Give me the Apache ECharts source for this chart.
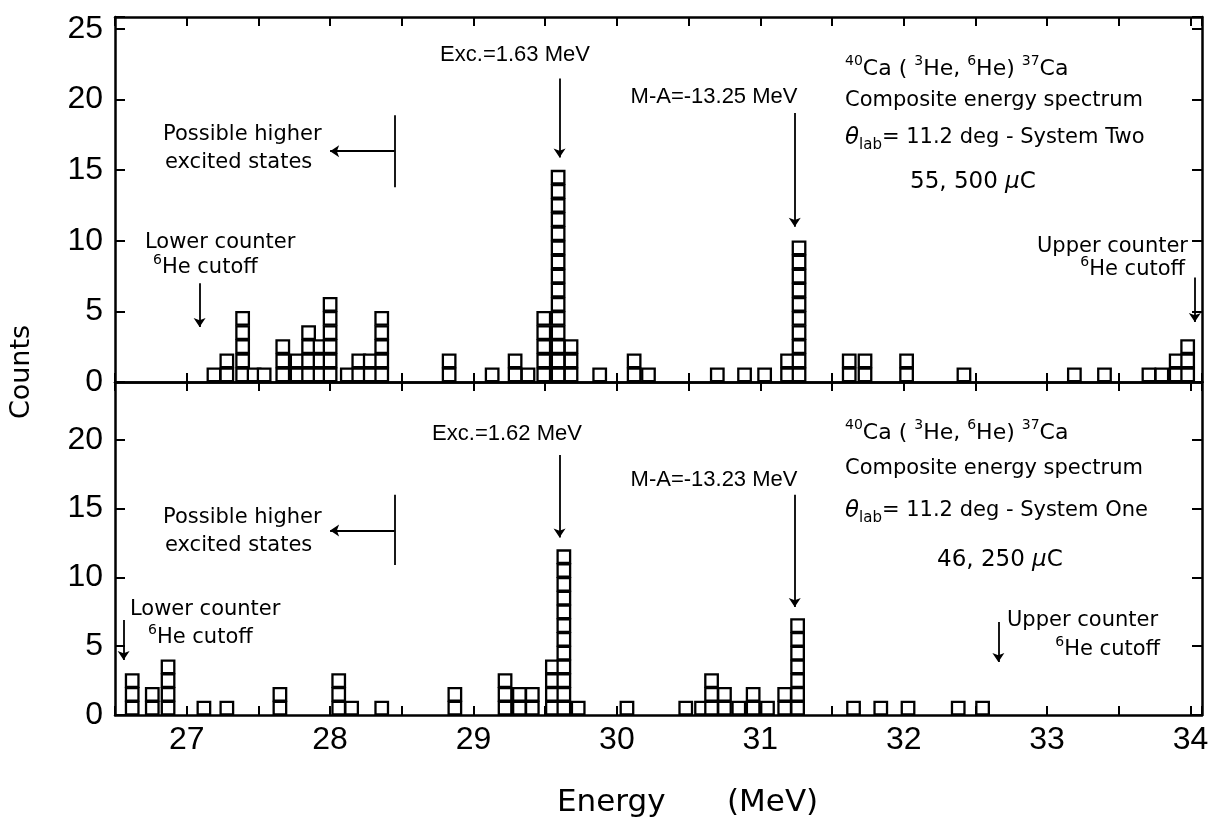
<!DOCTYPE html>
<html>
<head>
<meta charset="utf-8">
<script src="https://cdn.jsdelivr.net/npm/echarts@6/dist/echarts.min.js"></script>
<style>
html,body{margin:0;padding:0;background:#fff;}
#chart{width:1210px;height:819px;}
</style>
</head>
<body>
<div id="chart"></div>
<script>
// ---------------- DATA ----------------
// Upper panel: System Two — energy of each column (MeV) and its number of counts
const topEnergy = [27.19,27.28,27.39,27.47,27.54,27.67,27.77,27.85,27.93,28.00,28.12,28.20,28.28,28.36,
  28.83,29.13,29.29,29.38,29.49,29.59,29.68,29.88,30.12,30.22,30.70,30.89,31.03,31.19,31.27,
  31.62,31.73,32.02,32.42,33.19,33.40,33.71,33.80,33.90,33.98];
const topCounts = [1,2,5,1,1,3,2,4,3,6,1,2,2,5,
  2,1,2,1,5,15,3,1,2,1,1,1,1,2,10,
  2,2,2,1,1,1,1,1,2,3];

// Lower panel: System One
const bottomEnergy = [26.62,26.76,26.87,27.12,27.28,27.65,28.06,28.15,28.36,28.87,
  29.22,29.32,29.41,29.55,29.63,29.73,30.07,30.48,30.59,30.66,30.75,30.85,30.95,31.05,
  31.17,31.26,31.65,31.84,32.03,32.38,32.55];
const bottomCounts = [3,2,4,1,1,2,3,1,1,2,
  3,2,2,4,12,1,1,1,1,3,2,1,2,1,
  2,7,1,1,1,1,1];

// Tick labels
const xTickLabels = [27,28,29,30,31,32,33,34];
const yTickLabelsTop = [0,5,10,15,20,25];
const yTickLabelsBottom = [0,5,10,15,20];

// Annotation arrows (energy, from-count, to-count)
const topArrows = [[29.60,21.5,15.9],[31.24,19.05,11.0],[27.09,7.0,3.9],[34.03,7.4,4.25]];
const bottomArrows = [[29.60,18.9,12.9],[31.24,16.0,7.85],[26.56,6.9,4.0],[32.66,6.76,3.85]];
// "Possible higher excited states" bracket: [barEnergy, barLow, barHigh, arrowCount, arrowTipEnergy]
const topBracket = [28.45,13.8,18.9,16.35,28.0];
const bottomBracket = [28.45,10.9,16.0,13.4,28.0];

// ---------------- CHART ----------------
const X_MIN = 26.5, X_MAX = 34.08;
const F_TICK = 'Liberation Sans';
const F_ANN = 'DejaVu Sans';

function stackPoints(E, C) {
  const pts = [];
  E.forEach((e, i) => { for (let k = 0; k < C[i]; k++) pts.push([e, k + 0.5]); });
  return pts;
}

function isInList(v, list) {
  return list.some(t => Math.abs(t - v) < 1e-6);
}

function xAxis(gridIndex, position, showLabel) {
  return {
    type: 'value', gridIndex, position, min: X_MIN, max: X_MAX, interval: 0.5,
    axisLine: {show: true, onZero: false, lineStyle: {color: '#000', width: 2.5}},
    axisTick: {show: true, inside: true, length: 9, lineStyle: {color: '#000', width: 2}},
    axisLabel: {show: showLabel, margin: 9, color: '#000', fontFamily: F_TICK, fontSize: 32,
      formatter: v => isInList(v, xTickLabels) ? String(Math.round(v)) : ''},
    splitLine: {show: false}
  };
}
function yAxis(gridIndex, position, max, labels) {
  return {
    type: 'value', gridIndex, position, min: 0, max, interval: 5,
    axisLine: {show: true, onZero: false, lineStyle: {color: '#000', width: 2.5}},
    axisTick: {show: true, inside: true, length: 10, lineStyle: {color: '#000', width: 2}},
    axisLabel: {show: !!labels, margin: 12, color: '#000', fontFamily: F_TICK, fontSize: 32,
      formatter: v => (labels && isInList(v, labels)) ? String(Math.round(v)) : ''},
    splitLine: {show: false}
  };
}

function arrowLines(arrows, bracket) {
  const d = arrows.map(a => [{coord: [a[0], a[1]], symbol: 'none'}, {coord: [a[0], a[2]], symbol: 'arrow'}]);
  d.push([{coord: [bracket[0], bracket[1]], symbol: 'none'}, {coord: [bracket[0], bracket[2]], symbol: 'none'}]);
  d.push([{coord: [bracket[0], bracket[3]], symbol: 'none'}, {coord: [bracket[4], bracket[3]], symbol: 'arrow'}]);
  return {
    silent: true, animation: false, symbolSize: 9,
    lineStyle: {color: '#000', width: 1.8, type: 'solid'},
    label: {show: false}, emphasis: {disabled: true},
    data: d
  };
}

function squares(xi, yi, E, C, lines) {
  return {
    type: 'scatter', xAxisIndex: xi, yAxisIndex: yi,
    data: stackPoints(E, C),
    symbol: 'rect', symbolSize: 12.5,
    itemStyle: {color: '#fff', borderColor: '#000', borderWidth: 2.3, opacity: 1},
    silent: true, animation: false, emphasis: {disabled: true},
    markLine: lines
  };
}

const rich = {
  sup: {fontFamily: F_ANN, fontSize: 14, verticalAlign: 'top', lineHeight: 14},
  sub: {fontFamily: F_ANN, fontSize: 15, verticalAlign: 'bottom', lineHeight: 15},
  th: {fontFamily: F_ANN, fontSize: 23, fontStyle: 'italic'},
  mu: {fontFamily: F_ANN, fontSize: 23, fontStyle: 'italic'}
};

function T(x, y, text, size, align, extra, family, weight) {
  return Object.assign({
    type: 'text', x, y, silent: true,
    style: {
      text, fill: '#000', fontFamily: family || F_ANN, fontSize: size || 21,
      fontWeight: weight || 'normal',
      align: align || 'left', verticalAlign: 'middle',
      textAlign: align || 'left', textVerticalAlign: 'middle',
      lineHeight: 30, rich
    }
  }, extra || {});
}

const texts = [
  // upper panel
  T(515, 55, 'Exc.=1.63 MeV', 22, 'center', null, F_TICK),
  T(714, 97, 'M-A=-13.25 MeV', 22, 'center', null, F_TICK),
  T(845, 69, '{sup|40}Ca ( {sup|3}He, {sup|6}He) {sup|37}Ca', 22),
  T(845, 101, 'Composite energy spectrum', 21),
  T(845, 138, '{th|θ}{sub|lab}= 11.2 deg - System Two', 21),
  T(910, 182, '55, 500 {mu|μ}C', 23),
  T(1188, 247, 'Upper counter', 21, 'right'),
  T(1185, 270, '{sup|6}He cutoff', 21, 'right'),
  T(163, 135, 'Possible higher', 21),
  T(165, 163, 'excited states', 21),
  T(145, 243, 'Lower counter', 21),
  T(153, 268, '{sup|6}He cutoff', 21),
  // lower panel
  T(507, 434, 'Exc.=1.62 MeV', 22, 'center', null, F_TICK),
  T(714, 480, 'M-A=-13.23 MeV', 22, 'center', null, F_TICK),
  T(845, 433, '{sup|40}Ca ( {sup|3}He, {sup|6}He) {sup|37}Ca', 22),
  T(845, 469, 'Composite energy spectrum', 21),
  T(845, 511, '{th|θ}{sub|lab}= 11.2 deg - System One', 21),
  T(937, 560, '46, 250 {mu|μ}C', 23),
  T(1007, 621, 'Upper counter', 21),
  T(1160, 650, '{sup|6}He cutoff', 21, 'right'),
  T(163, 518, 'Possible higher', 21),
  T(165, 546, 'excited states', 21),
  T(130, 610, 'Lower counter', 21),
  T(148, 638, '{sup|6}He cutoff', 21),
  // axis titles
  T(22, 372, 'Counts', 27, 'center', {rotation: Math.PI / 2}),
  T(557, 803, 'Energy', 31, 'left'),
  T(727, 803, '(MeV)', 31, 'left')
];

const chart = echarts.init(document.getElementById('chart'), null, {renderer: 'canvas'});
chart.setOption({
  animation: false,
  backgroundColor: '#fff',
  grid: [
    {left: 115, right: 8, top: 17, height: 365, outerBoundsMode: 'none', containLabel: false},
    {left: 115, right: 8, top: 382, height: 333, outerBoundsMode: 'none', containLabel: false}
  ],
  xAxis: [
    xAxis(0, 'bottom', false),
    xAxis(0, 'top', false),
    xAxis(1, 'bottom', true),
    xAxis(1, 'top', false)
  ],
  yAxis: [
    yAxis(0, 'left', 25.85, yTickLabelsTop),
    yAxis(0, 'right', 25.85, null),
    yAxis(1, 'left', 24.2, yTickLabelsBottom),
    yAxis(1, 'right', 24.2, null)
  ],
  series: [
    squares(0, 0, topEnergy, topCounts, arrowLines(topArrows, topBracket)),
    squares(2, 2, bottomEnergy, bottomCounts, arrowLines(bottomArrows, bottomBracket))
  ],
  graphic: {elements: texts}
});
</script>
</body>
</html>
